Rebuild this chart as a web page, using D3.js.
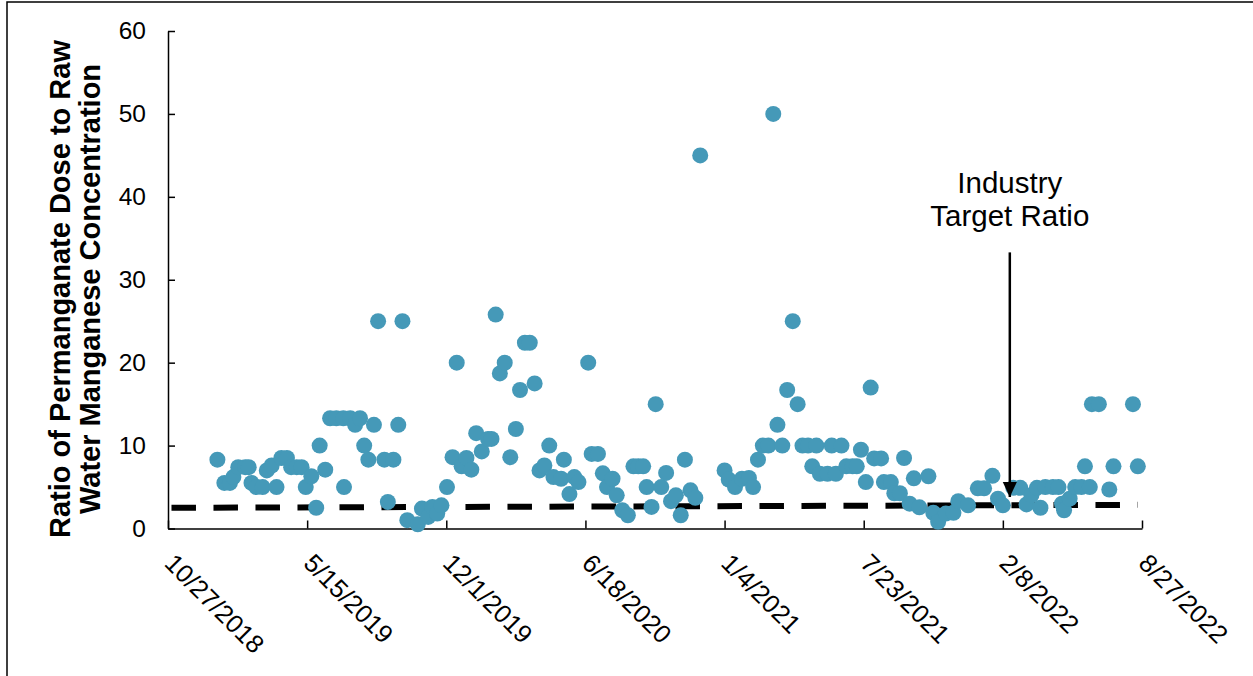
<!DOCTYPE html>
<html>
<head>
<meta charset="utf-8">
<script src="https://cdn.jsdelivr.net/npm/d3@7"></script>
<style>
  body { margin: 0; background: #fff; }
  svg { font-family: 'Liberation Sans', Arial, sans-serif; }
</style>
</head>
<body>
<div id="chart"></div>
<script>
// Data
const sampleDates = [
  '2019-01-06', '2019-01-16', '2019-01-24', '2019-01-29', '2019-02-05', '2019-02-15', '2019-02-20', '2019-02-24',
  '2019-03-03', '2019-03-12', '2019-03-18', '2019-03-25', '2019-04-01', '2019-04-08', '2019-04-16', '2019-04-22',
  '2019-04-30', '2019-05-07', '2019-05-13', '2019-05-21', '2019-05-28', '2019-06-02', '2019-06-10', '2019-06-17',
  '2019-06-26', '2019-07-06', '2019-07-07', '2019-07-16', '2019-07-23', '2019-07-30', '2019-08-05', '2019-08-11',
  '2019-08-19', '2019-08-25', '2019-09-03', '2019-09-08', '2019-09-16', '2019-09-23', '2019-09-29', '2019-10-06',
  '2019-10-21', '2019-10-27', '2019-11-05', '2019-11-11', '2019-11-18', '2019-11-24', '2019-12-02', '2019-12-10',
  '2019-12-16', '2019-12-23', '2019-12-30', '2020-01-06', '2020-01-13', '2020-01-21', '2020-01-30', '2020-02-04',
  '2020-02-10', '2020-02-16', '2020-02-23', '2020-03-02', '2020-03-10', '2020-03-16', '2020-03-23', '2020-03-30',
  '2020-04-06', '2020-04-13', '2020-04-20', '2020-04-27', '2020-05-03', '2020-05-14', '2020-05-18', '2020-05-26',
  '2020-06-02', '2020-06-08', '2020-06-22', '2020-06-27', '2020-07-06', '2020-07-13', '2020-07-19', '2020-07-27',
  '2020-08-02', '2020-08-10', '2020-08-18', '2020-08-26', '2020-09-02', '2020-09-09', '2020-09-14', '2020-09-21',
  '2020-09-27', '2020-10-05', '2020-10-12', '2020-10-19', '2020-10-26', '2020-11-02', '2020-11-08', '2020-11-16',
  '2020-11-23', '2020-11-30', '2021-01-04', '2021-01-10', '2021-01-19', '2021-01-29', '2021-02-08', '2021-02-14',
  '2021-02-21', '2021-02-28', '2021-03-08', '2021-03-15', '2021-03-21', '2021-03-28', '2021-04-04', '2021-04-12',
  '2021-04-19', '2021-04-26', '2021-05-04', '2021-05-10', '2021-05-16', '2021-05-21', '2021-06-01', '2021-06-07',
  '2021-06-13', '2021-06-21', '2021-06-28', '2021-07-07', '2021-07-13', '2021-07-19', '2021-07-26', '2021-08-02',
  '2021-08-07', '2021-08-17', '2021-08-21', '2021-08-31', '2021-09-05', '2021-09-13', '2021-09-19', '2021-09-27',
  '2021-10-03', '2021-10-11', '2021-10-24', '2021-10-31', '2021-11-07', '2021-11-18', '2021-11-29', '2021-12-06',
  '2021-12-20', '2022-01-03', '2022-01-12', '2022-01-24', '2022-02-01', '2022-02-08', '2022-02-23', '2022-03-05',
  '2022-03-14', '2022-03-21', '2022-03-29', '2022-04-03', '2022-04-10', '2022-04-21', '2022-04-29', '2022-05-04',
  '2022-05-07', '2022-05-15', '2022-05-23', '2022-06-01', '2022-06-06', '2022-06-13', '2022-06-16', '2022-06-26',
  '2022-07-11', '2022-07-17', '2022-08-14', '2022-08-21'
];
const doseRatios = [
  8.3, 5.5, 5.5, 6.2, 7.4, 7.4, 7.4, 5.5,
  5.0, 5.0, 7.0, 7.6, 5.0, 8.5, 8.5, 7.4,
  7.4, 7.4, 5.0, 6.3, 2.5, 10.0, 7.1, 13.3,
  13.3, 13.3, 5.0, 13.3, 12.5, 13.3, 10.0, 8.3,
  12.5, 25.0, 8.3, 3.2, 8.3, 12.5, 25.0, 1.0,
  0.5, 2.4, 1.4, 2.6, 1.8, 2.8, 5.0, 8.6,
  20.0, 7.5, 8.5, 7.1, 11.5, 9.3, 10.8, 10.8,
  25.8, 18.7, 20.0, 8.6, 12.0, 16.7, 22.4, 22.4,
  17.5, 7.0, 7.6, 10.0, 6.2, 6.0, 8.3, 4.15,
  6.2, 5.6, 20.0, 9.0, 9.0, 6.65, 5.0, 6.0,
  4.0, 2.2, 1.6, 7.5, 7.5, 7.5, 5.0, 2.6,
  15.0, 5.0, 6.7, 3.3, 4.0, 1.6, 8.3, 4.6,
  3.7, 45.0, 7.0, 5.9, 5.0, 6.0, 6.1, 5.0,
  8.3, 10.0, 10.0, 50.0, 12.5, 10.0, 16.7, 25.0,
  15.0, 10.0, 10.0, 7.5, 10.0, 6.6, 6.6, 10.0,
  6.6, 10.0, 7.5, 7.5, 7.5, 9.5, 5.6, 17.0,
  8.45, 8.45, 5.6, 5.6, 4.25, 4.25, 8.5, 3.0,
  6.05, 2.55, 6.3, 1.9, 0.8, 1.8, 1.9, 3.3,
  2.8, 4.85, 4.85, 6.35, 3.6, 2.8, 4.9, 4.9,
  2.9, 4.0, 4.9, 2.5, 5.0, 5.0, 5.0, 3.0,
  2.2, 3.6, 5.0, 5.0, 7.5, 5.0, 15.0, 15.0,
  4.7, 7.5, 15.0, 7.5
];
const yTicks = [0, 10, 20, 30, 40, 50, 60];
const xTickLabels = ['10/27/2018', '5/15/2019', '12/1/2019', '6/18/2020', '1/4/2021', '7/23/2021', '2/8/2022', '8/27/2022'];
const targetDates = ['2018-11-01', '2022-08-21'];
const targetRatios = [2.5, 2.85];
const annotationLines = ['Industry', 'Target Ratio'];
const annotationDate = '2022-02-18';
const annotationRange = [33.3, 3.8];
const yTitleLines = ['Ratio of Permanganate Dose to Raw', 'Water Manganese Concentration'];

// Layout
const [width, height] = [1253, 676];
const margin = { top: 31, left: 168 };
const [innerWidth, innerHeight] = [974, 497.5];
const pointRadius = 8;
const pointColor = '#4599b8';

const parseIso = d3.timeParse('%Y-%m-%d');
const parseTick = d3.timeParse('%m/%d/%Y');

const svg = d3.select('#chart')
  .append('svg')
  .attr('width', width)
  .attr('height', height);

// Frame round the chart (only left and top edges fall inside the picture)
svg.append('path')
  .attr('d', `M7,${height}V2H${width}`)
  .attr('fill', 'none')
  .attr('stroke', '#000')
  .attr('stroke-width', 1.5);

const g = svg.append('g')
  .attr('transform', `translate(${margin.left},${margin.top})`);

const xTicks = xTickLabels.map(parseTick);
const xScale = d3.scaleTime()
  .domain([xTicks[0], xTicks[xTicks.length - 1]])
  .range([0, innerWidth]);

const yScale = d3.scaleLinear()
  .domain([0, 60])
  .range([innerHeight, 0]);

// Axes
const drawAxis = () => {
  const xAxis = g.append('g')
    .attr('transform', `translate(0,${innerHeight})`)
    .call(d3.axisBottom(xScale)
      .tickValues(xTicks)
      .tickSizeInner(-8)
      .tickSizeOuter(0)
      .tickFormat((d, i) => xTickLabels[i]));

  const yAxis = g.append('g')
    .call(d3.axisLeft(yScale)
      .tickValues(yTicks)
      .tickSizeInner(-7)
      .tickSizeOuter(0)
      .tickPadding(22));

  [xAxis, yAxis].forEach((ax) => {
    ax.selectAll('path, line').attr('stroke', '#000').attr('stroke-width', 1.5);
    ax.selectAll('text')
      .attr('fill', '#000')
      .style('font-size', '24.5px')
      .style('font-family', "'Liberation Sans', Arial, sans-serif");
  });

  xAxis.selectAll('text')
    .attr('x', 0)
    .attr('y', 0)
    .attr('dy', '0.35em')
    .attr('transform', 'translate(1,30) rotate(45)')
    .style('text-anchor', 'start')
    .style('font-size', '25.5px');

  const title = svg.append('text')
    .attr('transform', 'translate(70,289) rotate(-90)')
    .attr('text-anchor', 'middle')
    .style('font-size', '29px')
    .style('font-weight', 'bold');

  title.selectAll('tspan')
    .data(yTitleLines)
    .enter()
    .append('tspan')
    .attr('x', 0)
    .attr('dy', (d, i) => (i === 0 ? 0 : 30))
    .text((d) => d);
};

// Target ratio dashed line
const drawTarget = () => {
  const target = targetDates.map((d, i) => ({ date: parseIso(d), ratio: targetRatios[i] }));
  g.append('path')
    .datum(target)
    .attr('fill', 'none')
    .attr('stroke', '#000')
    .attr('stroke-width', 6)
    .attr('stroke-dasharray', '24.5,17.5')
    .attr('d', d3.line()
      .x((d) => xScale(d.date))
      .y((d) => yScale(d.ratio)));
};

const drawCircles = () => {
  const points = sampleDates.map((d, i) => ({ date: parseIso(d), ratio: doseRatios[i] }));
  g.selectAll('circle')
    .data(points)
    .enter()
    .append('circle')
    .attr('cx', (d) => xScale(d.date))
    .attr('cy', (d) => yScale(d.ratio))
    .attr('r', pointRadius)
    .style('fill', pointColor);
};

const drawAnnotation = () => {
  svg.append('defs')
    .append('marker')
    .attr('id', 'arrow')
    .attr('viewBox', '0 0 10 10')
    .attr('refX', 10)
    .attr('refY', 5)
    .attr('markerUnits', 'userSpaceOnUse')
    .attr('markerWidth', 15)
    .attr('markerHeight', 15)
    .attr('orient', 'auto')
    .append('path')
    .attr('d', 'M0,0.3L10,5L0,9.7Z')
    .attr('fill', '#000');

  const ax = xScale(parseIso(annotationDate));
  const [yTop, yTip] = annotationRange.map(yScale);

  g.append('line')
    .attr('x1', ax)
    .attr('x2', ax)
    .attr('y1', yTop)
    .attr('y2', yTip)
    .attr('stroke', '#000')
    .attr('stroke-width', 2.5)
    .attr('marker-end', 'url(#arrow)');

  g.append('text')
    .attr('text-anchor', 'middle')
    .style('font-size', '29.5px')
    .selectAll('tspan')
    .data(annotationLines)
    .enter()
    .append('tspan')
    .attr('x', ax)
    .attr('y', (d, i) => yTop - 59 + i * 33)
    .text((d) => d);
};

drawAxis();
drawTarget();
drawCircles();
drawAnnotation();
</script>
</body>
</html>
